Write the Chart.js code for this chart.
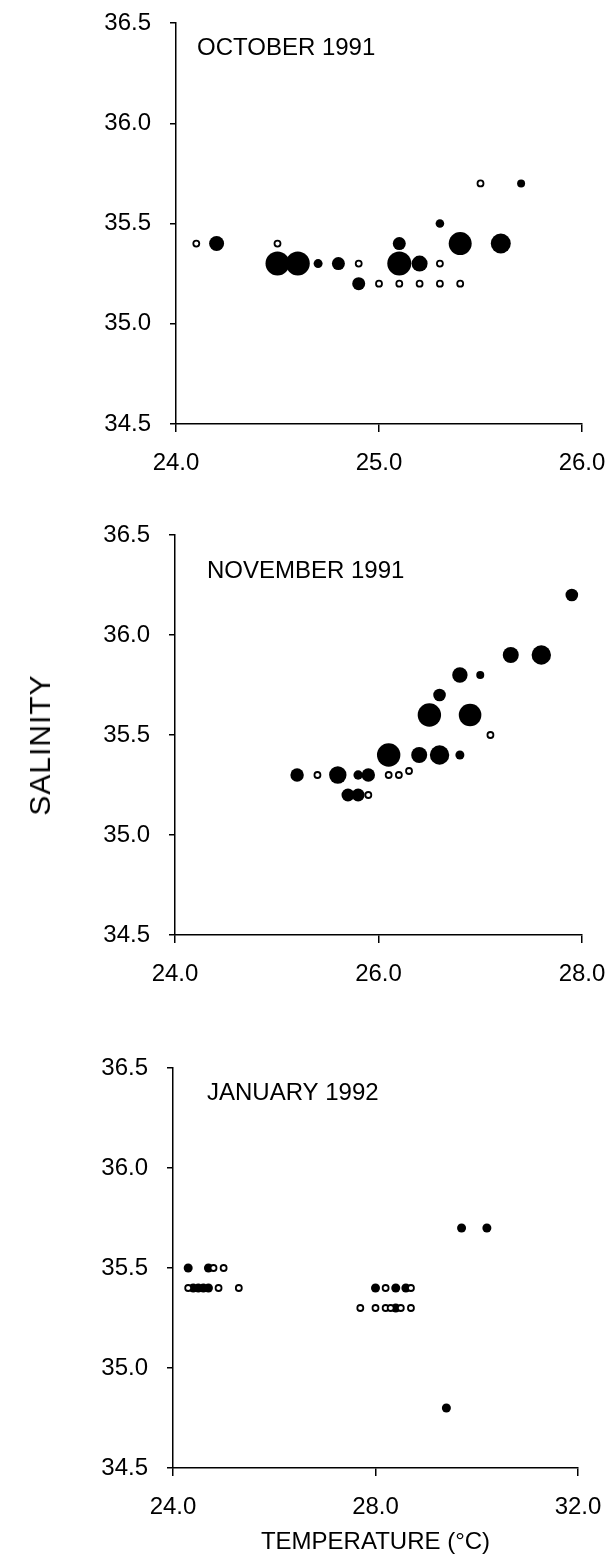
<!DOCTYPE html>
<html>
<head>
<meta charset="utf-8">
<script src="https://cdn.jsdelivr.net/npm/chart.js@4.4.1/dist/chart.umd.min.js"></script>
<style>
  html, body { margin: 0; padding: 0; background: #fff; }
  body { width: 607px; height: 1562px; position: relative; overflow: hidden; }
  .panel { position: absolute; left: 0; width: 607px; }
  #salinity {
    position: absolute; left: 40px; top: 745px;
    transform: translate(-50%, -50%) rotate(-90deg);
    font: 30px "Liberation Sans", Arial, sans-serif; color: #000;
    white-space: nowrap; letter-spacing: 1px;
  }
</style>
</head>
<body>
<div class="panel" style="top:0;height:500px"><canvas id="octChart"></canvas></div>
<div class="panel" style="top:500px;height:520px"><canvas id="novChart"></canvas></div>
<div class="panel" style="top:1020px;height:542px"><canvas id="janChart"></canvas></div>
<div id="salinity">SALINITY</div>
<script>
// shared axis values
const salinityTicks = [34.5, 35.0, 35.5, 36.0, 36.5];

// October 1991
const octTempTicks = [24, 25, 26];
const octFilledTemp = [24.2, 24.5, 24.6, 24.7, 24.8, 24.9, 25.1, 25.1, 25.2, 25.3, 25.4, 25.6, 25.7];
const octFilledSal  = [35.4, 35.3, 35.3, 35.3, 35.3, 35.2, 35.4, 35.3, 35.3, 35.5, 35.4, 35.4, 35.7];
const octFilledSize = [7.5, 12, 12, 4.5, 6.5, 6.5, 6.5, 12, 8, 4.3, 11.5, 10, 4];
const octOpenTemp = [24.1, 24.5, 24.9, 25.0, 25.1, 25.2, 25.3, 25.4, 25.3, 25.5];
const octOpenSal  = [35.4, 35.4, 35.3, 35.2, 35.2, 35.2, 35.2, 35.2, 35.3, 35.7];

// November 1991
const novTempTicks = [24, 26, 28];
const novFilledTemp = [25.2, 25.6, 25.8, 25.9, 25.7, 25.8, 26.1, 26.4, 26.6, 26.8, 26.5, 26.9, 26.6, 26.8, 27.0, 27.3, 27.6, 27.9];
const novFilledSal  = [35.3, 35.3, 35.3, 35.3, 35.2, 35.2, 35.4, 35.4, 35.4, 35.4, 35.6, 35.6, 35.7, 35.8, 35.8, 35.9, 35.9, 36.2];
const novFilledSize = [6.7, 8.7, 4.7, 6.7, 6.5, 6.5, 11.7, 8, 9.7, 4.5, 11.7, 11.3, 6.3, 7.7, 4, 8, 9.7, 6.3];
const novOpenTemp = [25.4, 26.1, 26.2, 26.3, 25.9, 27.1];
const novOpenSal  = [35.3, 35.3, 35.3, 35.32, 35.2, 35.5];

// January 1992
const janTempTicks = [24, 28, 32];
const janFilledTemp = [24.3, 24.7, 24.4, 24.5, 24.6, 24.7, 28.0, 28.4, 28.6, 28.4, 29.7, 30.2, 29.4];
const janFilledSal  = [35.5, 35.5, 35.4, 35.4, 35.4, 35.4, 35.4, 35.4, 35.4, 35.3, 35.7, 35.7, 34.8];
const janFilledSize = [4.5, 4.5, 4.5, 4.5, 4.5, 4.5, 4.5, 4.5, 4.5, 4.5, 4.5, 4.5, 4.5];
const janOpenTemp = [24.8, 25.0, 24.3, 24.9, 25.3, 28.2, 28.7, 27.7, 28.0, 28.2, 28.3, 28.5, 28.7];
const janOpenSal  = [35.5, 35.5, 35.4, 35.4, 35.4, 35.4, 35.4, 35.3, 35.3, 35.3, 35.3, 35.3, 35.3];

const FONT = '"Liberation Sans", Arial, sans-serif';
Chart.defaults.font.family = FONT;
Chart.defaults.font.size = 24;
Chart.defaults.color = '#000';

// month name written inside the plot area
const panelLabel = {
    id: 'panelLabel',
    afterDraw(chart, args, opts) {
        const ctx = chart.ctx;
        ctx.save();
        ctx.font = '24px ' + FONT;
        ctx.fillStyle = '#000';
        ctx.textBaseline = 'alphabetic';
        ctx.fillText(opts.text, chart.chartArea.left + opts.dx, chart.chartArea.top + opts.dy);
        ctx.restore();
    }
};

function points(xs, ys, rs) {
    return xs.map((x, i) => ({ x: x, y: ys[i], r: rs ? rs[i] : 3 }));
}

function makePanel(id, p) {
    return new Chart(document.getElementById(id), {
        type: 'bubble',
        data: {
            datasets: [
                {   // open circles (drawn on top)
                    data: points(p.openTemp, p.openSal),
                    backgroundColor: '#fff',
                    borderColor: '#000',
                    borderWidth: 1.8,
                    clip: false
                },
                {
                    data: points(p.filledTemp, p.filledSal, p.filledSize),
                    backgroundColor: '#000',
                    borderColor: '#000',
                    borderWidth: 0,
                    clip: false
                }
            ]
        },
        options: {
            responsive: true,
            maintainAspectRatio: false,
            animation: false,
            events: [],
            layout: { padding: { top: p.padTop, right: p.padRight, left: 0, bottom: 0 } },
            plugins: {
                legend: { display: false },
                tooltip: { enabled: false },
                panelLabel: { text: p.label, dx: p.labelDx, dy: p.labelDy }
            },
            scales: {
                x: {
                    type: 'linear',
                    min: p.tempTicks[0],
                    max: p.tempTicks[p.tempTicks.length - 1],
                    afterBuildTicks: s => { s.ticks = p.tempTicks.map(v => ({ value: v })); },
                    afterFit: s => { s.height = p.xHeight; s.paddingLeft = 0; s.paddingRight = 0; },
                    ticks: { callback: v => v.toFixed(1), padding: 17, maxRotation: 0, autoSkip: false },
                    grid: { drawOnChartArea: false, tickLength: 8, color: '#000', lineWidth: 1.5 },
                    border: { color: '#000', width: 1.5 },
                    title: p.xTitle ? {
                        display: true,
                        text: p.xTitle,
                        font: { size: 24 },
                        padding: { top: 0, bottom: 5 }
                    } : { display: false }
                },
                y: {
                    type: 'linear',
                    min: salinityTicks[0],
                    max: salinityTicks[salinityTicks.length - 1],
                    afterBuildTicks: s => { s.ticks = salinityTicks.map(v => ({ value: v })); },
                    afterFit: s => { s.width = p.yWidth; s.paddingTop = 0; s.paddingBottom = 0; },
                    ticks: { callback: v => v.toFixed(1), padding: 19 },
                    grid: { drawOnChartArea: false, tickLength: 6, color: '#000', lineWidth: 1.5 },
                    border: { color: '#000', width: 1.5 }
                }
            }
        },
        plugins: [panelLabel]
    });
}

makePanel('octChart', {
    label: 'OCTOBER 1991', labelDx: 21, labelDy: 32,
    tempTicks: octTempTicks,
    filledTemp: octFilledTemp, filledSal: octFilledSal, filledSize: octFilledSize,
    openTemp: octOpenTemp, openSal: octOpenSal,
    padTop: 23, padRight: 25, yWidth: 176, xHeight: 76
});

makePanel('novChart', {
    label: 'NOVEMBER 1991', labelDx: 32, labelDy: 43,
    tempTicks: novTempTicks,
    filledTemp: novFilledTemp, filledSal: novFilledSal, filledSize: novFilledSize,
    openTemp: novOpenTemp, openSal: novOpenSal,
    padTop: 35, padRight: 25, yWidth: 175, xHeight: 85
});

makePanel('janChart', {
    label: 'JANUARY 1992', labelDx: 34, labelDy: 32,
    tempTicks: janTempTicks,
    filledTemp: janFilledTemp, filledSal: janFilledSal, filledSize: janFilledSize,
    openTemp: janOpenTemp, openSal: janOpenSal,
    padTop: 48, padRight: 29, yWidth: 173, xHeight: 94,
    xTitle: 'TEMPERATURE (\u00B0C)'
});
</script>
</body>
</html>
